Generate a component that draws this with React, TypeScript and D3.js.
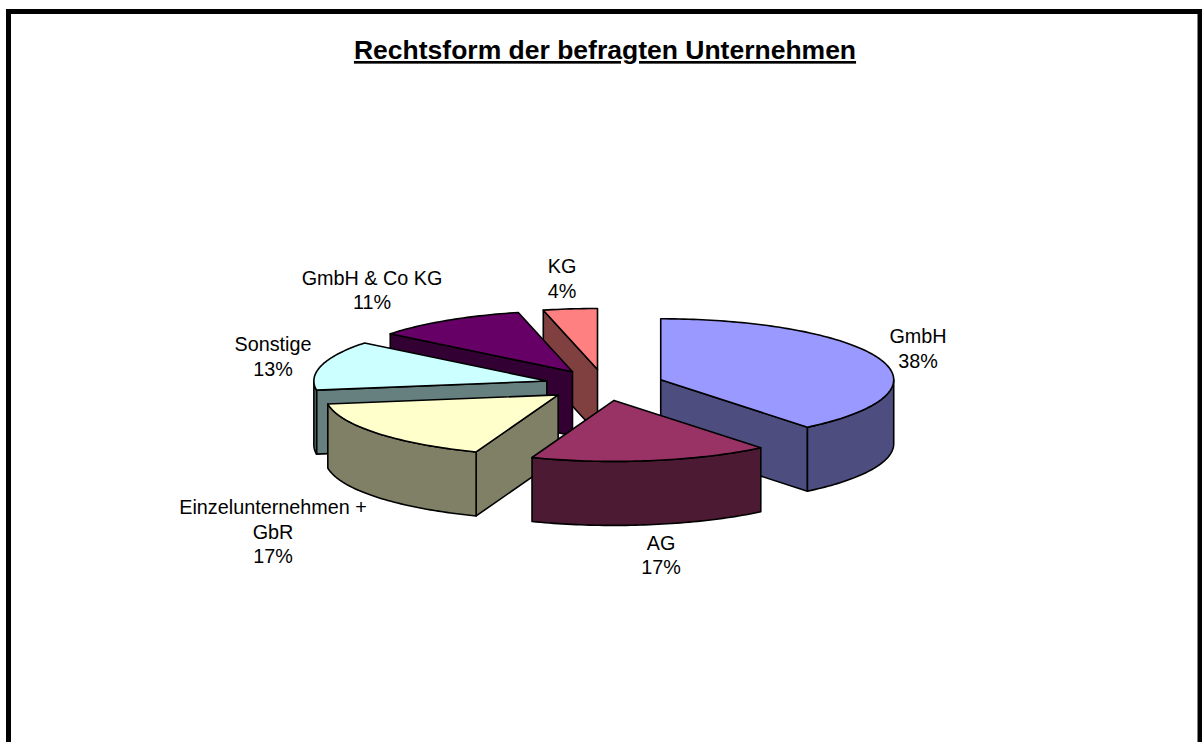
import React from "react";
import * as d3 from "d3";

const categories = ["GmbH", "AG", "Einzelunternehmen + GbR", "Sonstige", "GmbH & Co KG", "KG"];
const shares = [38, 17, 17, 13, 11, 4];
const labelLines = [["GmbH"], ["AG"], ["Einzelunternehmen +", "GbR"], ["Sonstige"], ["GmbH & Co KG"], ["KG"]];
const topColors = ["#9999FF", "#993366", "#FFFFCC", "#CCFFFF", "#660066", "#FF8080"];
const wallColors = ["#4D4D80", "#4D1A33", "#808066", "#668080", "#330033", "#804040"];
const title = "Rechtsform der befragten Unternehmen";

// Layout of the 3D projection
const W = 1202, H = 742;
const CX = 604.5, CY = 385, RX = 233, RY = 61, DEPTH = 64, EXPLODE = 0.256;
const paintOrder = [5, 4, 3, 2, 0, 1];
const labelAnchors: [number, number][] = [[918, 343], [661, 549.5], [273, 514], [273, 351], [372, 284.5], [562, 273]];
const LINE_H = 24.5;

const DEG = Math.PI / 180;
const warp = (t: number) => t + 3.3 * DEG * Math.sin(t / 2) - 1.1 * DEG * Math.sin(2 * t);
const lineGen = d3.line<[number, number]>().x((d) => d[0]).y((d) => d[1]);

const pieGen = d3.pie<number>().sort(null).value((d) => d);

function sliceParts(arc: d3.PieArcDatum<number>) {
  const a0 = warp(arc.startAngle), a1 = warp(arc.endAngle);
  const mid = (a0 + a1) / 2;
  const ox = CX + EXPLODE * RX * Math.sin(mid);
  const oy = CY - EXPLODE * RY * Math.cos(mid);
  const pt = (t: number, dz = 0): [number, number] => [ox + RX * Math.sin(t), oy - RY * Math.cos(t) + dz];
  const arcPts = (s: number, e: number, dz = 0) => {
    const n = Math.max(2, Math.ceil((e - s) / 0.02));
    return d3.range(n + 1).map((i) => pt(s + ((e - s) * i) / n, dz));
  };
  const apex: [number, number] = [ox, oy];
  const apexLow: [number, number] = [ox, oy + DEPTH];
  const top = lineGen([apex, ...arcPts(a0, a1)]) + "Z";
  const walls: string[] = [];
  if (Math.sin(a0) < -1e-6) walls.push(lineGen([apex, pt(a0), pt(a0, DEPTH), apexLow])! + "Z");
  if (Math.sin(a1) > 1e-6) walls.push(lineGen([apex, pt(a1), pt(a1, DEPTH), apexLow])! + "Z");
  const fs = Math.max(a0, Math.PI / 2), fe = Math.min(a1, (3 * Math.PI) / 2);
  if (fe > fs) walls.push(lineGen([...arcPts(fs, fe), ...arcPts(fs, fe, DEPTH).reverse()])! + "Z");
  return { top, walls };
}

export default function App() {
  const arcs = pieGen(shares);
  const font = "'Liberation Sans', Arial, sans-serif";
  return (
    <svg width={W} height={H} viewBox={`0 0 ${W} ${H}`} style={{ position: "absolute", left: 0, top: 0, display: "block", background: "#fff" }}>
      <rect x={8.5} y={11.5} width={1191.5} height={800} fill="#fff" stroke="#000" strokeWidth={5} />
      <text x={605} y={59} textAnchor="middle" fontFamily={font} fontSize={26.5} fontWeight="bold" textDecoration="underline" fill="#000">{title}</text>
      {paintOrder.map((i) => {
        const { top, walls } = sliceParts(arcs[i]);
        return (
          <g key={categories[i]} stroke="#000" strokeWidth={1.6} strokeLinejoin="round">
            {walls.map((d, k) => <path key={k} d={d} fill={wallColors[i]} />)}
            <path d={top} fill={topColors[i]} />
          </g>
        );
      })}
      {categories.map((c, i) => {
        const lines = [...labelLines[i], `${shares[i]}%`];
        return (
          <text key={c} textAnchor="middle" fontFamily={font} fontSize={19.8} fill="#000">
            {lines.map((l, k) => (
              <tspan key={k} x={labelAnchors[i][0]} y={labelAnchors[i][1] + k * LINE_H}>{l}</tspan>
            ))}
          </text>
        );
      })}
    </svg>
  );
}
